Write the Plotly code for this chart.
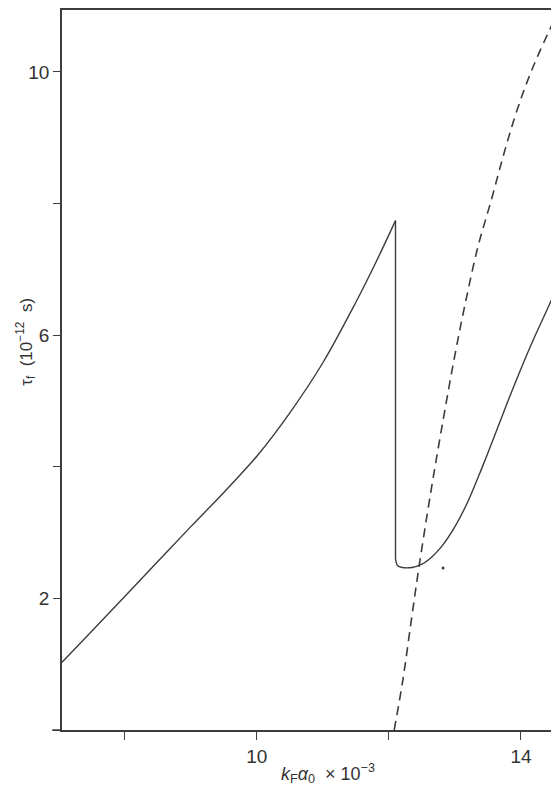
import plotly.graph_objects as go

# solid curve, rising branch up to the jump
rise_x = [7.05, 7.5, 8.0, 8.5, 9.0, 9.5, 10.0, 10.5, 11.0, 11.5, 11.8, 12.1]
rise_y = [1.03, 1.50, 2.03, 2.56, 3.09, 3.61, 4.16, 4.82, 5.58, 6.50, 7.10, 7.74]

# the vertical drop
drop_x = [12.1, 12.1]
drop_y = [7.74, 2.6]

# solid curve after the drop
tail_x = [12.1, 12.13, 12.2, 12.35, 12.5, 12.65, 12.8, 13.0, 13.2, 13.4,
          13.6, 13.8, 14.0, 14.2, 14.41, 14.5]
tail_y = [2.6, 2.5, 2.47, 2.47, 2.52, 2.63, 2.79, 3.09, 3.48, 3.96,
          4.47, 4.99, 5.49, 5.96, 6.42, 6.62]

# dashed curve
dash_x = [12.08, 12.21, 12.33, 12.45, 12.64, 12.83, 13.0, 13.16, 13.35, 13.55,
          13.72, 13.89, 14.06, 14.24, 14.5]
dash_y = [0.0, 0.75, 1.6, 2.44, 3.65, 4.76, 5.7, 6.5, 7.35, 8.05,
          8.68, 9.26, 9.76, 10.21, 10.78]

# stray dot beside the minimum
dot_x = [12.82]
dot_y = [2.46]

ink = '#3c3c3c'

fig = go.Figure()
fig.add_trace(go.Scatter(x=rise_x, y=rise_y, mode='lines',
                         line=dict(color=ink, width=1.4, shape='spline', smoothing=1)))
fig.add_trace(go.Scatter(x=drop_x, y=drop_y, mode='lines',
                         line=dict(color=ink, width=1.4)))
fig.add_trace(go.Scatter(x=tail_x, y=tail_y, mode='lines',
                         line=dict(color=ink, width=1.4, shape='spline', smoothing=0.8)))
fig.add_trace(go.Scatter(x=dash_x, y=dash_y, mode='lines',
                         line=dict(color=ink, width=1.6, dash='9px,6px', shape='spline', smoothing=1)))
fig.add_trace(go.Scatter(x=dot_x, y=dot_y, mode='markers',
                         marker=dict(color=ink, size=3)))

fig.update_layout(
    width=551, height=785,
    margin=dict(l=54, r=5, t=0, b=63),
    showlegend=False,
    plot_bgcolor='white',
    paper_bgcolor='white',
    font=dict(family='Liberation Sans, Arial, sans-serif', color='#333333', size=19),
)
fig.update_xaxes(range=[7.05, 14.5], tick0=10, dtick=4,
                 ticks='outside', ticklen=8, tickcolor=ink,
                 minor=dict(tick0=8, dtick=2, ticks='outside', ticklen=8, tickcolor=ink),
                 showgrid=False, zeroline=False,
                 showline=True, linecolor=ink, linewidth=1.5, mirror=True)
fig.update_yaxes(range=[0, 10.94], tick0=2, dtick=4,
                 ticks='outside', ticklen=7, tickcolor=ink,
                 minor=dict(tick0=2, dtick=2, ticks='outside', ticklen=7, tickcolor=ink),
                 showgrid=False, zeroline=False,
                 showline=True, linecolor=ink, linewidth=1.5, mirror=True)

# x axis line runs a little past the y axis
fig.add_shape(type='line', xref='paper', yref='paper', x0=-0.02, x1=0, y0=0, y1=0,
              line=dict(color=ink, width=1.5))

fig.add_annotation(text='τ<sub>f</sub>  (10<sup>−12</sup>  s)', textangle=-90,
                   xref='paper', yref='y', x=-0.073, y=5.9, xanchor='center', yanchor='middle',
                   showarrow=False, font=dict(size=17))
fig.add_annotation(text='<i>k</i><sub>F</sub><i>α</i><sub>0</sub>  × 10<sup>−3</sup>',
                   xref='paper', yref='paper', x=0.54, y=-0.06, xanchor='center', yanchor='middle',
                   showarrow=False, font=dict(size=18))

fig.write_html('out.html')
